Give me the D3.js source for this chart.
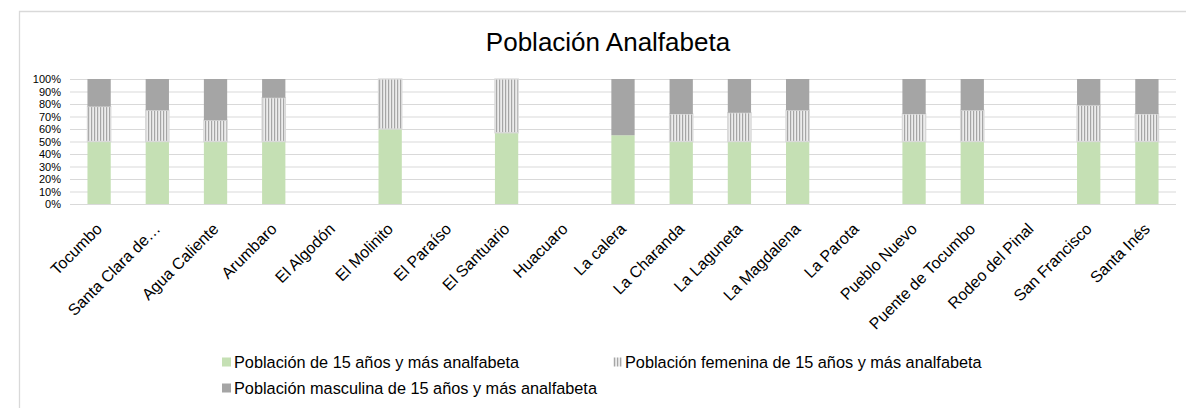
<!DOCTYPE html>
<html lang="es">
<head>
<meta charset="utf-8"/>
<title>Población Analfabeta</title>
<style>
  * { margin: 0; padding: 0; }
  body { background: #fff; }
  svg { display: block; font-family: "Liberation Sans", Arial, sans-serif; }
  .grid line { stroke: #d9d9d9; stroke-width: 1.2; }
  .grid .domain { display: none; }
  text.title { font-size: 26px; fill: #000; }
  .yaxis text { font-size: 11px; fill: #000; }
  .xlabel { font-size: 16px; fill: #000; }
  .legend text { font-size: 16.3px; fill: #000; }
</style>
<script src="https://d3js.org/d3.v7.min.js"></script>
</head>
<body>
<svg id="chart" width="1186" height="408"></svg>
<script>
  // localidades
  const categories = ["Tocumbo", "Santa Clara de…", "Agua Caliente", "Arumbaro", "El Algodón",
    "El Molinito", "El Paraíso", "El Santuario", "Huacuaro", "La calera", "La Charanda",
    "La Laguneta", "La Magdalena", "La Parota", "Pueblo Nuevo", "Puente de Tocumbo",
    "Rodeo del Pinal", "San Francisco", "Santa Inés"];

  // share of each bar (%)
  const total  = [50, 50, 50, 50, 0, 60, 0, 57, 0, 55, 50, 50, 50, 0, 50, 50, 0, 50, 50];
  const female = [28, 25, 17, 35, 0, 40, 0, 43, 0, 0, 22, 23, 25, 0, 22, 25, 0, 29, 22];
  const male   = [22, 25, 33, 15, 0, 0, 0, 0, 0, 45, 28, 27, 25, 0, 28, 25, 0, 21, 28];

  const seriesNames = ["Población de 15 años y más analfabeta",
    "Población femenina de 15 años y más analfabeta",
    "Población masculina de 15 años y más analfabeta"];

  const yTicks = [0, 0.1, 0.2, 0.3, 0.4, 0.5, 0.6, 0.7, 0.8, 0.9, 1];

  const rows = categories.map((c, i) => ({cat: c, s0: total[i], s1: female[i], s2: male[i]}));

  const svg = d3.select("#chart");

  // striped fill for the female series
  const defs = svg.append("defs");
  const pat = defs.append("pattern")
    .attr("id", "stripes")
    .attr("patternUnits", "userSpaceOnUse")
    .attr("width", 3).attr("height", 6);
  pat.append("rect").attr("width", 3).attr("height", 6).attr("fill", "#ececec");
  pat.append("rect").attr("x", 1).attr("width", 1.2).attr("height", 6).attr("fill", "#a6a6a6");

  // chart frame
  svg.append("path")
    .attr("d", "M19.5,408 V11.5 H1186")
    .attr("fill", "none")
    .attr("stroke", "#d9d9d9")
    .attr("stroke-width", 1.3);

  svg.append("text")
    .attr("class", "title")
    .attr("x", 608).attr("y", 51)
    .attr("text-anchor", "middle")
    .text("Población Analfabeta");

  const plotL = 70, plotR = 1176, plotT = 79, plotB = 204;

  const x = d3.scaleBand()
    .domain(categories)
    .range([plotL, plotR])
    .paddingInner(0.6)
    .paddingOuter(0.3);

  const y = d3.scaleLinear()
    .domain([0, 1])
    .range([plotB, plotT]);

  // grid lines
  svg.append("g")
    .attr("class", "grid")
    .attr("transform", `translate(${plotL},0)`)
    .call(d3.axisLeft(y).tickValues(yTicks).tickSize(-(plotR - plotL)).tickFormat(""));

  // y labels
  const yAxis = svg.append("g")
    .attr("class", "yaxis")
    .attr("transform", `translate(${plotL},0)`)
    .call(d3.axisLeft(y).tickValues(yTicks).tickSize(0).tickPadding(9).tickFormat(d3.format(".0%")));
  yAxis.select(".domain").remove();
  yAxis.attr("font-family", null).attr("font-size", null);

  const stack = d3.stack()
    .keys(["s0", "s1", "s2"])
    .offset(d3.stackOffsetExpand);
  const layers = stack(rows);

  const fills = ["#c5e0b4", "url(#stripes)", "#a5a5a5"];
  const strokes = ["#c5e0b4", "#d9d9d9", "#a5a5a5"];

  svg.append("g")
    .selectAll("g")
    .data(layers)
    .join("g")
      .attr("fill", (d, i) => fills[i])
      .attr("stroke", (d, i) => strokes[i])
      .attr("stroke-width", (d, i) => i === 1 ? 1.3 : 0)
    .selectAll("rect")
    .data(d => d.filter(p => p[1] - p[0] > 0))
    .join("rect")
      .attr("x", d => x(d.data.cat))
      .attr("width", x.bandwidth())
      .attr("y", d => y(d[1]))
      .attr("height", d => y(d[0]) - y(d[1]));

  // rotated category labels
  svg.append("g")
    .selectAll("text")
    .data(categories)
    .join("text")
      .attr("class", "xlabel")
      .attr("text-anchor", "end")
      .attr("transform", d => `translate(${x(d) + x.bandwidth() / 2 + 4},${plotB + 26}) rotate(-45)`)
      .text(d => d);

  // legend
  const legendPos = [[222, 362], [613, 362], [222, 388]];
  const legend = svg.append("g").attr("class", "legend")
    .selectAll("g")
    .data(seriesNames)
    .join("g")
      .attr("transform", (d, i) => `translate(${legendPos[i][0]},${legendPos[i][1]})`);
  legend.append("rect")
    .attr("x", 0).attr("y", -4.5)
    .attr("width", 9).attr("height", 9)
    .attr("fill", (d, i) => fills[i]);
  legend.append("text")
    .attr("x", 12).attr("y", 5.5)
    .text(d => d);
</script>
</body>
</html>
